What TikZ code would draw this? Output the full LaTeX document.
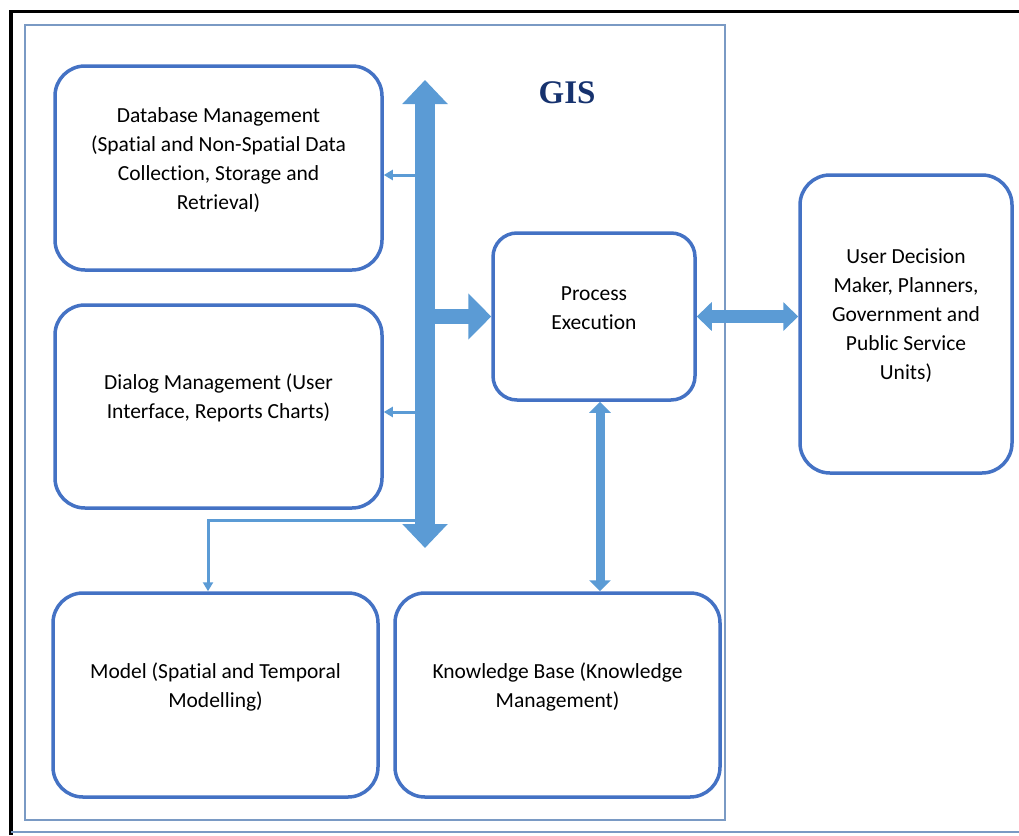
\documentclass[tikz,border=0pt]{standalone}
\usepackage{fontspec}
\setmainfont{Carlito}[Ligatures=NoCommon]
\newfontfamily\titlefont{Liberation Serif}
\usetikzlibrary{arrows.meta}
\definecolor{boxblue}{RGB}{68,114,196}
\definecolor{arrowblue}{RGB}{91,155,213}
\definecolor{framegray}{RGB}{122,154,196}
\definecolor{navy}{RGB}{22,50,110}
\begin{document}
\begin{tikzpicture}[x=1pt,y=-1pt,
  box/.style={draw=boxblue,line width=3.5pt,rounded corners=30pt,inner sep=0pt},
  txt/.style={align=center,font=\fontsize{21.5}{29}\selectfont,inner sep=0pt},
  fat/.style={draw=arrowblue},
  slim/.style={draw=arrowblue,line width=3pt,-{Triangle[width=10pt,length=9pt]}}]
\useasboundingbox (0,0) rectangle (1019,835);
\draw[line width=3.5pt] (11,835)--(11,11.5)--(1019,11.5);
\draw[framegray,line width=2pt] (11,832)--(1019,832);
\draw[framegray,line width=1.4pt] (25,25) rectangle (725,820);

\node[text=navy,font=\titlefont\bfseries\fontsize{33}{36}\selectfont] (gis) at (567,93) {GIS};

% boxes
\node[box,minimum width=327pt,minimum height=204pt] (db) at (218.5,168) {};
\node[box,minimum width=327pt,minimum height=203pt] (dlg) at (218.5,406.5) {};
\node[box,minimum width=325pt,minimum height=204pt] (mdl) at (215.5,695) {};
\node[box,minimum width=325pt,minimum height=204pt] (kb) at (557.5,695) {};
\node[box,rounded corners=24pt,minimum width=202pt,minimum height=167pt] (proc) at (594,316.5) {};
\node[box,minimum width=212pt,minimum height=298pt] (usr) at (906,324) {};

% texts
\node[txt] (dbtext) at ([yshift=7.5pt]db.center)
  {Database Management\\(Spatial and Non-Spatial Data\\Collection, Storage and\\Retrieval)};
\node[txt] (dlgtext) at ([yshift=8.5pt]dlg.center) {Dialog Management (User\\Interface, Reports Charts)};
\node[txt] (mdltext) at ([yshift=8pt]mdl.center) {Model (Spatial and Temporal\\Modelling)};
\node[txt] (kbtext) at ([yshift=8pt]kb.center) {Knowledge Base (Knowledge\\Management)};
\node[txt] (proctext) at ([yshift=8pt]proc.center) {Process\\Execution};
\node[txt] (usrtext) at ([yshift=8.5pt]usr.center)
  {User Decision\\Maker, Planners,\\Government and\\Public Service\\Units)};

\coordinate (busT) at (425,80);
\coordinate (busB) at (425,548);
\draw[fat,line width=20pt,{Triangle[width=44pt,length=24pt]}-{Triangle[width=44pt,length=24pt]}] (busT)--(busB);
\draw[fat,line width=15pt,-{Triangle[width=45pt,length=23pt]}] (busT |- proc.west)--(proc.west);
\draw[slim] (busT |- 0,175)--(db.east |- 0,175);
\draw[slim] (busT |- 0,412)--(dlg.east |- 0,412);
\draw[slim] (busT |- 0,520)-|([xshift=-7.5pt]mdl.north);

\draw[fat,line width=9pt,{Triangle[width=21pt,length=11pt]}-{Triangle[width=21pt,length=11pt]}]
  ([xshift=6pt]proc.south)--([xshift=6pt]proc.south |- kb.north);
\draw[fat,line width=13pt,{Triangle[width=28pt,length=15pt]}-{Triangle[width=28pt,length=15pt]}]
  (proc.east)--(proc.east -| usr.west);
\end{tikzpicture}
\end{document}
